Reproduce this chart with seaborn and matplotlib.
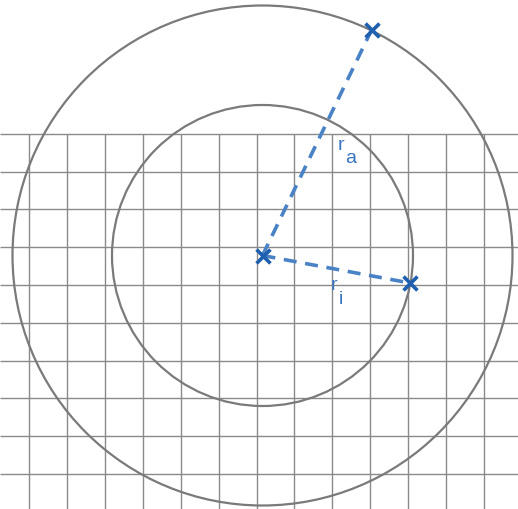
import matplotlib
matplotlib.use("Agg")
import matplotlib.pyplot as plt
import seaborn as sns
import pandas as pd
from matplotlib.patches import Circle

## grid lines of the paper (pixel coords, y downwards)
grid_x = [29.3, 67.2, 105.1, 143.0, 180.8, 218.7, 256.6, 294.4, 332.3, 370.1, 408.0, 445.8, 483.7]
grid_y = [134.7, 172.5, 210.3, 248.2, 286.0, 323.8, 361.6, 399.4, 437.2, 475.0]

## circles
center = (262.5, 256.5)
radii = [250.0, 150.5]

## the three marked points and the radius lines
pt_name = ["center", "outer", "inner"]
pt_x = [262.5, 371.7, 410.0]
pt_y = [256.5, 30.7, 284.0]

## radius labels (baseline positions)
lab_main = ["r", "r"]
lab_sub = ["a", "i"]
lab_x = [338.0, 331.0]
lab_y = [150.5, 290.5]
sub_x = [345.5, 338.5]
sub_y = [163.5, 304.0]

sns.set_style("white")
fig = plt.figure(figsize=(5.18, 5.10), dpi=100)
ax = fig.add_axes([0, 0, 1, 1])
ax.set_xlim(0, 518)
ax.set_ylim(510, 0)
ax.axis("off")

ax.vlines(grid_x, grid_y[0], 510, color="#8a8a8a", lw=1.0, zorder=1)
ax.hlines(grid_y, 0, 518, color="#8a8a8a", lw=1.0, zorder=1)

for r in radii:
    ax.add_patch(Circle(center, r, fill=False, ec="#7a7a7a", lw=1.6, zorder=2))

df = pd.DataFrame({"name": pt_name, "x": pt_x, "y": pt_y})
for other in ["outer", "inner"]:
    seg = df[df["name"].isin(["center", other])]
    sns.lineplot(data=seg, x="x", y="y", ax=ax, color="#4a82c6", lw=2.6,
                 sort=False, zorder=3, dashes=False, estimator=None)
    ax.lines[-1].set_dashes((3.6, 2.4))

sns.scatterplot(data=df, x="x", y="y", ax=ax, marker="x", s=100,
                color="#1f5fb0", linewidth=2.6, zorder=4)

for m, s, x, y, sx, sy in zip(lab_main, lab_sub, lab_x, lab_y, sub_x, sub_y):
    ax.text(x, y, m, fontsize=14, color="#3a75c0", ha="left", va="baseline",
            family="Liberation Sans", zorder=5)
    ax.text(sx, sy, s, fontsize=14, color="#3a75c0", ha="left", va="baseline",
            family="Liberation Sans", zorder=5)

ax.set_xlabel("")
ax.set_ylabel("")
fig.savefig("out.png", dpi=100)
